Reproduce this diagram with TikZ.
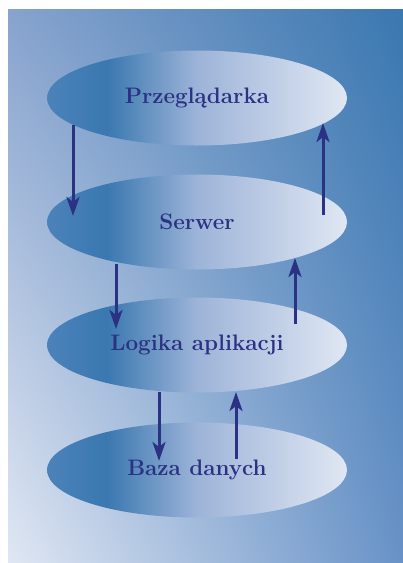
\documentclass[tikz,border=0pt]{standalone}
\usepackage{fontspec}
\usepackage{tikz}
\usetikzlibrary{shapes,shapes.geometric}
\usetikzlibrary{arrows.meta,shadings}
\definecolor{granat}{HTML}{2B3183}
\definecolor{ciemny}{HTML}{3A78B0}
\definecolor{sredni}{HTML}{4C82BA}
\definecolor{jasny}{HTML}{E0E7F3}
\definecolor{polowa}{HTML}{9DB4D8}
\definecolor{tlogora}{HTML}{87A3CE}
\definecolor{tlodol}{HTML}{6892C7}
\pgfdeclarehorizontalshading{warstwa}{100bp}{color(0bp)=(sredni); color(25bp)=(sredni); color(35bp)=(ciemny); color(50bp)=(polowa); color(75bp)=(jasny); color(100bp)=(jasny)}
\tikzset{
  warstwa/.style={ellipse, shading=warstwa, minimum width=300pt, minimum height=95pt, inner sep=0pt, text=granat, font=\bfseries\fontsize{22.4}{26}\selectfont},
  strzalka/.style={granat, line width=3pt, -{Stealth[length=19pt,width=13pt,inset=5pt]}}
}
\begin{document}
\begin{tikzpicture}[x=1pt,y=-1pt]
			\useasboundingbox (0,0) rectangle (403,563);
			\shade[upper left=tlogora, upper right=ciemny, lower left=jasny, lower right=tlodol] (8,9) rectangle (403,562);
			\node[warstwa] (przegladarka) at (197,98) {Przeglądarka};
			\node[warstwa] (serwer) at (197,222) {Serwer};
			\node[warstwa] (logika) at (197,345) {Logika aplikacji};
			\node[warstwa] (baza) at (197,470) {Baza danych};
			% punkty strzalek
			\coordinate (p1) at (73,125); \coordinate (s1) at (73,216);
			\coordinate (s2) at (323,215); \coordinate (p2) at (323,123);
			\coordinate (s3) at (116,264); \coordinate (l1) at (116,329);
			\coordinate (l2) at (295,324); \coordinate (s4) at (295,258);
			\coordinate (l3) at (159,392); \coordinate (b1) at (159,461);
			\coordinate (b2) at (236,459); \coordinate (l4) at (236,392);
			\draw[strzalka] (p1) -- (s1);
			\draw[strzalka] (s2) -- (p2);
			\draw[strzalka] (s3) -- (l1);
			\draw[strzalka] (l2) -- (s4);
			\draw[strzalka] (l3) -- (b1);
			\draw[strzalka] (b2) -- (l4);
		\end{tikzpicture}
\end{document}
